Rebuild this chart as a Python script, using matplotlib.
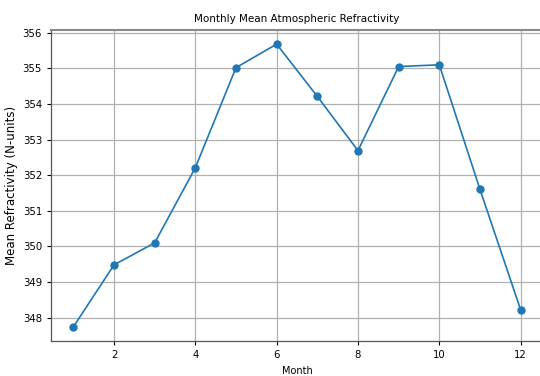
import numpy as np
import matplotlib.pyplot as plt

months = np.arange(1, 13)
refractivity = [347.74, 349.48, 350.10, 352.21, 355.02, 355.68,
                354.21, 352.69, 355.05, 355.10, 351.60, 348.22]

fig = plt.figure(figsize=(5.4, 3.76), dpi=100)
# axes run a bit past the right edge, like the cropped original
ax = fig.add_axes([51/540, 35/376, 492/540, 311/376])
ax.plot(months, refractivity, '-o', color='#1f77b4', markersize=5, linewidth=1.2)
ax.grid(color='#b0b0b0', linewidth=0.9)
ax.set_title('Monthly Mean Atmospheric Refractivity', fontsize=7.5)
ax.set_xlabel('Month', fontsize=7)
ax.set_ylabel('Mean Refractivity (N-units)', fontsize=8.5)
ax.yaxis.set_label_coords(-0.068, 0.5)
ax.tick_params(labelsize=7.3, length=3, width=0.8)
for s in ax.spines.values():
    s.set_color('#555555')
    s.set_linewidth(0.9)
ax.spines['top'].set_color('#888888')
ax.spines['top'].set_linewidth(1.5)
fig.savefig('out.png', dpi=100)
